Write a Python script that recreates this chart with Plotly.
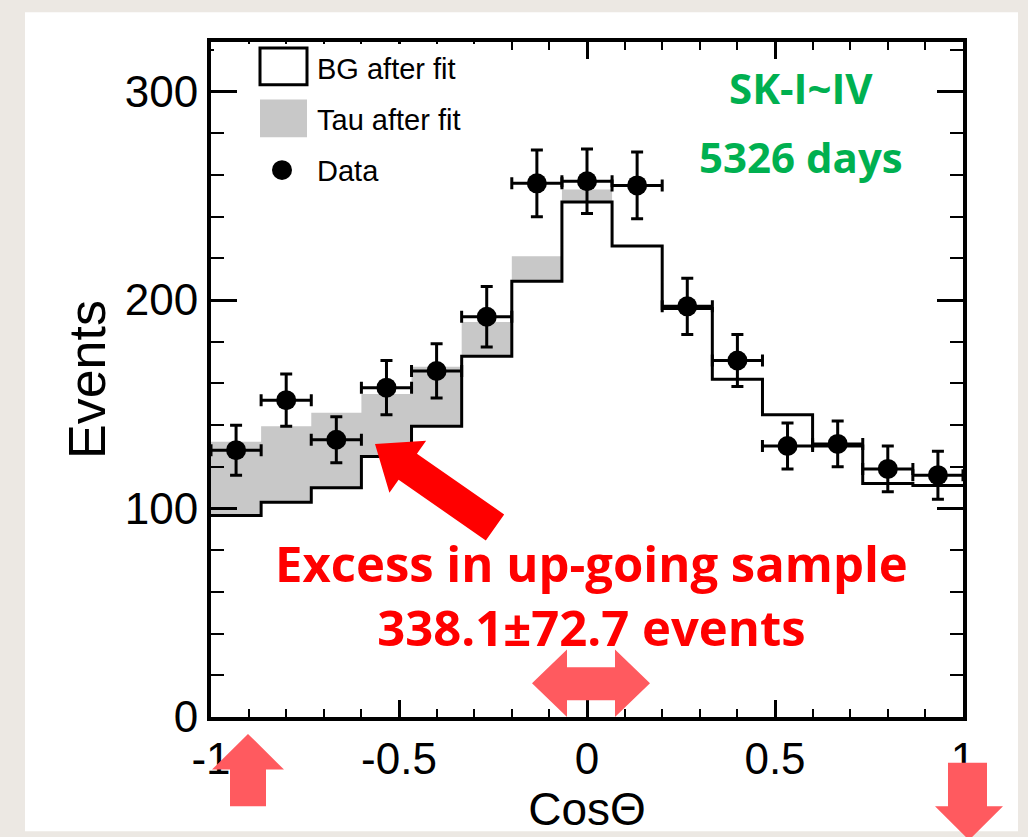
import plotly.graph_objects as go

# ---------------- data ----------------
bin_edges = [-1.0, -0.8667, -0.7333, -0.6, -0.4667, -0.3333, -0.2, -0.0667,
             0.0667, 0.2, 0.3333, 0.4667, 0.6, 0.7333, 0.8667, 1.0]
cos_centers = [-0.9333, -0.8, -0.6667, -0.5333, -0.4, -0.2667, -0.1333, 0.0,
               0.1333, 0.2667, 0.4, 0.5333, 0.6667, 0.8, 0.9333]
bin_half_width = [0.0667] * 15

data_events = [128, 152, 133, 158, 166, 192, 256, 257, 255, 197, 171, 130, 131, 119, 116]
data_err = [12, 12.5, 11, 13, 13, 14.5, 16, 15.5, 16, 13.5, 12.5, 11, 11, 11, 11.5]

bg_after_fit = [96.7, 103, 110, 125, 139.5, 173, 209, 247, 226, 196, 162, 145, 130, 112, 111]
tau_after_fit = [35.3, 36.5, 36, 30, 28.5, 16.5, 12, 6, 0, 0, 0, 0, 0, 0, 0]

x_tick_vals = [-1, -0.5, 0, 0.5, 1]
x_tick_text = ["-1", "-0.5", "0", "0.5", "1"]
y_tick_vals = [0, 100, 200, 300]
y_tick_text = ["0", "100", "200", "300"]

legend_labels = ["BG after fit", "Tau after fit", "Data"]
label_sk = ["SK-I~IV", "5326 days"]
label_excess = ["Excess in up-going sample", "338.1\u00b172.7 events"]

# ---------------- layout geometry ----------------
W, H = 1028, 837
ML, MR, MT, MB = 211, 65, 42, 115
PW = W - ML - MR
PH = H - MT - MB


def paper(px, py):
    return (px - ML) / PW, (H - MB - py) / PH


def path_from_px(points):
    s = ""
    for i, (px, py) in enumerate(points):
        x, y = paper(px, py)
        s += ("M" if i == 0 else "L") + f"{x:.5f},{y:.5f} "
    return s + "Z"


def step(vals):
    return list(vals) + [vals[-1]]


total_after_fit = [b + t for b, t in zip(bg_after_fit, tau_after_fit)]

fig = go.Figure()

# grey tau area between BG and BG+tau
fig.add_trace(go.Scatter(x=bin_edges, y=step(bg_after_fit), mode="lines",
                         line=dict(width=0, shape="hv"), showlegend=False,
                         hoverinfo="skip"))
fig.add_trace(go.Scatter(x=bin_edges, y=step(total_after_fit), mode="lines",
                         line=dict(width=0, shape="hv"), fill="tonexty",
                         fillcolor="#c8c8c8", name=legend_labels[1],
                         showlegend=False))
# BG step line
fig.add_trace(go.Scatter(x=bin_edges, y=step(bg_after_fit), mode="lines",
                         line=dict(width=3, color="black", shape="hv"),
                         name=legend_labels[0], showlegend=False))
# data points
fig.add_trace(go.Scatter(x=cos_centers, y=data_events, mode="markers",
                         marker=dict(size=20, color="black"),
                         error_y=dict(type="data", array=data_err, color="black",
                                      thickness=3, width=6),
                         error_x=dict(type="data", array=bin_half_width, color="black",
                                      thickness=3, width=6),
                         name=legend_labels[2], showlegend=False))

shapes = []
# white panel over the beige background
x0, y0 = paper(25, 837)
x1, y1 = paper(1018, 12)
shapes.append(dict(type="rect", xref="paper", yref="paper", x0=x0, y0=y0, x1=x1, y1=y1,
                   fillcolor="white", line=dict(width=0), layer="below"))
# white legend patch hiding top ticks
lx0, ly0 = paper(214, 60)
lx1, ly1 = paper(508, 44)
shapes.append(dict(type="rect", xref="paper", yref="paper", x0=lx0, y0=ly0, x1=lx1, y1=ly1,
                   fillcolor="white", line=dict(width=0), layer="above"))
# legend symbols
bx0, by0 = paper(260, 85)
bx1, by1 = paper(307, 48)
shapes.append(dict(type="rect", xref="paper", yref="paper", x0=bx0, y0=by0, x1=bx1, y1=by1,
                   fillcolor="white", line=dict(width=3, color="black"), layer="above"))
tx0, ty0 = paper(260, 138)
tx1, ty1 = paper(307, 100)
shapes.append(dict(type="rect", xref="paper", yref="paper", x0=tx0, y0=ty0, x1=tx1, y1=ty1,
                   fillcolor="#c8c8c8", line=dict(width=0), layer="above"))
cx0, cy0 = paper(272, 181)
cx1, cy1 = paper(292, 161)
shapes.append(dict(type="circle", xref="paper", yref="paper", x0=cx0, y0=cy0, x1=cx1, y1=cy1,
                   fillcolor="black", line=dict(width=0), layer="above"))

# big red arrow
tip = (375, 447)
tail = (495, 531)
dx, dy = tail[0] - tip[0], tail[1] - tip[1]
L = (dx ** 2 + dy ** 2) ** 0.5
ux, uy = dx / L, dy / L
nx, ny = -uy, ux
head_len, head_hw, shaft_hw = 40, 32, 16
bxc, byc = tip[0] + head_len * ux, tip[1] + head_len * uy
red_arrow = [
    tip,
    (bxc + head_hw * nx, byc + head_hw * ny),
    (bxc + shaft_hw * nx, byc + shaft_hw * ny),
    (tail[0] + shaft_hw * nx, tail[1] + shaft_hw * ny),
    (tail[0] - shaft_hw * nx, tail[1] - shaft_hw * ny),
    (bxc - shaft_hw * nx, byc - shaft_hw * ny),
    (bxc - head_hw * nx, byc - head_hw * ny),
]
shapes.append(dict(type="path", xref="paper", yref="paper", path=path_from_px(red_arrow),
                   fillcolor="#ff0000", line=dict(width=0), layer="above"))

pink = "#ff5a5f"
double_arrow = [(532, 688), (567, 654), (567, 672), (615, 672), (615, 654), (650, 688),
                (615, 722), (615, 705), (567, 705), (567, 722)]
up_arrow = [(248, 739), (284, 775), (266, 775), (266, 812), (230, 812), (230, 775), (212, 775)]
down_arrow = [(948, 768), (987, 768), (987, 812), (1003, 812), (969, 846), (935, 812), (948, 812)]
for arr in (double_arrow, up_arrow, down_arrow):
    shapes.append(dict(type="path", xref="paper", yref="paper", path=path_from_px(arr),
                       fillcolor=pink, line=dict(width=0), layer="above"))

annotations = []
for lab, py in zip(legend_labels, [69, 121, 172]):
    ax, ay = paper(315, py)
    annotations.append(dict(text=lab, x=ax, y=ay, xref="paper", yref="paper",
                            xanchor="left", yanchor="middle", showarrow=False,
                            font=dict(family="Liberation Sans", size=29, color="black")))
for lab, py in zip(label_sk, [88, 157]):
    ax, ay = paper(801, py)
    annotations.append(dict(text=f"<b>{lab}</b>", x=ax, y=ay, xref="paper", yref="paper",
                            xanchor="center", yanchor="middle", showarrow=False,
                            font=dict(family="Open Sans", size=42, color="#00b050")))
# two-line red caption as one text block
ax, ay = paper(591, 599)
annotations.append(dict(text="<br>".join(f"<b>{lab}</b>" for lab in label_excess),
                        x=ax, y=ay, xref="paper", yref="paper",
                        xanchor="center", yanchor="middle", showarrow=False, align="center",
                        font=dict(family="Open Sans", size=49, color="#ff0000")))

axis_font = dict(family="Liberation Sans", size=44, color="black")

fig.update_layout(
    width=W, height=H,
    margin=dict(l=ML, r=MR, t=MT, b=MB, pad=0),
    paper_bgcolor="#ece8e3",
    plot_bgcolor="white",
    showlegend=False,
    shapes=shapes,
    annotations=annotations,
    xaxis=dict(range=[-1, 1], tickvals=x_tick_vals, ticktext=x_tick_text,
               ticks="inside", ticklen=17, tickwidth=3, tickcolor="black",
               minor=dict(ticks="inside", dtick=0.1, ticklen=8, tickwidth=2, tickcolor="black"),
               showline=True, linewidth=4, linecolor="black", mirror="allticks",
               showgrid=False, zeroline=False, tickfont=axis_font,
               title=dict(text="Cos\u0398", font=dict(family="Liberation Sans", size=46, color="black"),
                          standoff=10)),
    yaxis=dict(range=[0, 323.8], tickvals=y_tick_vals, ticktext=y_tick_text,
               ticks="inside", ticklen=26, tickwidth=3, tickcolor="black",
               minor=dict(ticks="inside", dtick=20, ticklen=13, tickwidth=2, tickcolor="black"),
               showline=True, linewidth=4, linecolor="black", mirror="allticks",
               showgrid=False, zeroline=False, tickfont=axis_font,
               title=dict(text="Events", font=dict(family="Liberation Sans", size=52, color="black"),
                          standoff=4)),
)

fig.write_html("out.html")
